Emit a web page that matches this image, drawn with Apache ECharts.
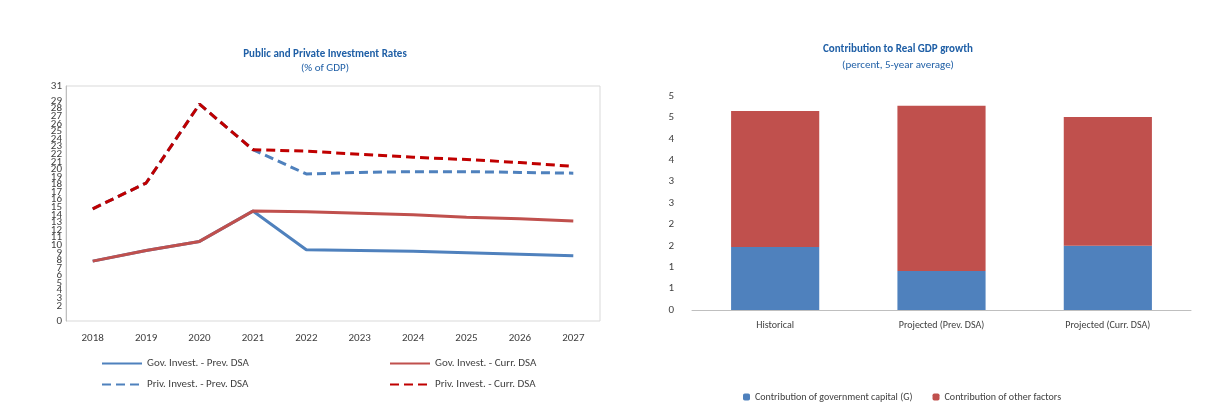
<!DOCTYPE html>
<html><head><meta charset="utf-8">
<script src="https://cdn.jsdelivr.net/npm/echarts@6/dist/echarts.min.js"></script>
<style>body{margin:0;background:#fff}#c{width:1205px;height:412px}</style>
</head><body><div id="c"></div>
<script>
const years = ['2018','2019','2020','2021','2022','2023','2024','2025','2026','2027'];
const govPrev = [7.9, 9.3, 10.5, 14.5, 9.4, 9.3, 9.2, 9.0, 8.8, 8.6];
const govCurr = [7.9, 9.3, 10.5, 14.5, 14.4, 14.2, 14.0, 13.7, 13.5, 13.2];
const privPrev = [14.8, 18.2, 28.6, 22.6, 19.4, 19.6, 19.7, 19.7, 19.6, 19.5];
const privCurr = [14.8, 18.2, 28.6, 22.6, 22.4, 22.0, 21.6, 21.3, 20.9, 20.4];
const gdpCats = ['Historical', 'Projected (Prev. DSA)', 'Projected (Curr. DSA)'];
const govCapital = [1.47, 0.91, 1.5];
const otherFactors = [3.18, 3.86, 3.01];

const blue = '#4f81bd', red = '#c0504d', darkRed = '#c00000', txt = '#404040';
const font = 'Carlito, Calibri, "Liberation Sans", sans-serif';
const chart = echarts.init(document.getElementById('c'));
const lineLeg = (name, left, top) => ({
  data: [{ name, itemStyle: { opacity: 0 } }], left, top, itemWidth: 40, itemHeight: 10,
  textStyle: { fontSize: 11, color: txt }, selectedMode: false
});
chart.setOption({
  animation: false,
  textStyle: { fontFamily: font },
  title: [
    { text: 'Public and Private Investment Rates', subtext: '(% of GDP)', left: 320, top: 44, textAlign: 'center', itemGap: 3,
      textStyle: { fontSize: 11, fontWeight: 'bold', color: '#1f5fa6' }, subtextStyle: { fontSize: 11, color: '#1f5fa6' } },
    { text: 'Contribution to Real GDP growth', subtext: '(percent, 5-year average)', left: 893, top: 39, textAlign: 'center', itemGap: 5,
      textStyle: { fontSize: 11, fontWeight: 'bold', color: '#1f5fa6' }, subtextStyle: { fontSize: 11, color: '#1f5fa6' } }
  ],
  legend: [
    lineLeg('Gov. Invest. - Prev. DSA', 96, 353),
    lineLeg('Gov. Invest. - Curr. DSA', 384, 353),
    lineLeg('Priv. Invest. - Prev. DSA', 96, 374),
    lineLeg('Priv. Invest. - Curr. DSA', 384, 374),
    { data: ['Contribution of government capital (G)', 'Contribution of other factors'], left: 738, top: 387, itemWidth: 7, itemHeight: 7, itemGap: 20,
      textStyle: { fontSize: 10, color: txt }, selectedMode: false }
  ],
  grid: [
    { left: 66, right: 605, top: 86, bottom: 91, show: true, borderColor: '#d9d9d9' },
    { left: 692, right: 14, top: 96, bottom: 102 }
  ],
  xAxis: [
    { type: 'category', data: years, gridIndex: 0, axisTick: { show: false }, axisLine: { show: false },
      axisLabel: { fontSize: 11, color: txt, margin: 12 } },
    { type: 'category', data: gdpCats, gridIndex: 1, axisTick: { show: false },
      axisLine: { lineStyle: { color: '#bfbfbf' } }, axisLabel: { fontSize: 10, color: txt, margin: 10 } }
  ],
  yAxis: [
    { type: 'value', gridIndex: 0, min: 0, max: 31, interval: 1, splitLine: { show: false },
      axisLine: { show: true, lineStyle: { color: '#bfbfbf' } },
      axisLabel: { fontSize: 11, color: txt, margin: 4, showMinLabel: true, showMaxLabel: true, hideOverlap: false } },
    { type: 'value', gridIndex: 1, min: 0, max: 5, interval: 0.5, splitLine: { show: false },
      axisLine: { show: false },
      axisLabel: { fontSize: 11, color: txt, margin: 18, formatter: v => Math.round(v) } }
  ],
  series: [
    { name: 'Gov. Invest. - Prev. DSA', type: 'line', data: govPrev, symbol: 'none', color: blue, lineStyle: { width: 3 } },
    { name: 'Gov. Invest. - Curr. DSA', type: 'line', data: govCurr, symbol: 'none', color: red, lineStyle: { width: 3 } },
    { name: 'Priv. Invest. - Prev. DSA', type: 'line', data: privPrev, symbol: 'none', color: blue, lineStyle: { width: 3, type: [9, 5] } },
    { name: 'Priv. Invest. - Curr. DSA', type: 'line', data: privCurr, symbol: 'none', color: darkRed, lineStyle: { width: 3, type: [9, 5] } },
    { name: 'Contribution of government capital (G)', type: 'bar', stack: 'g', xAxisIndex: 1, yAxisIndex: 1, data: govCapital,
      color: blue, barWidth: '53%' },
    { name: 'Contribution of other factors', type: 'bar', stack: 'g', xAxisIndex: 1, yAxisIndex: 1, data: otherFactors,
      color: red, barWidth: '53%' }
  ]
});
</script></body></html>
